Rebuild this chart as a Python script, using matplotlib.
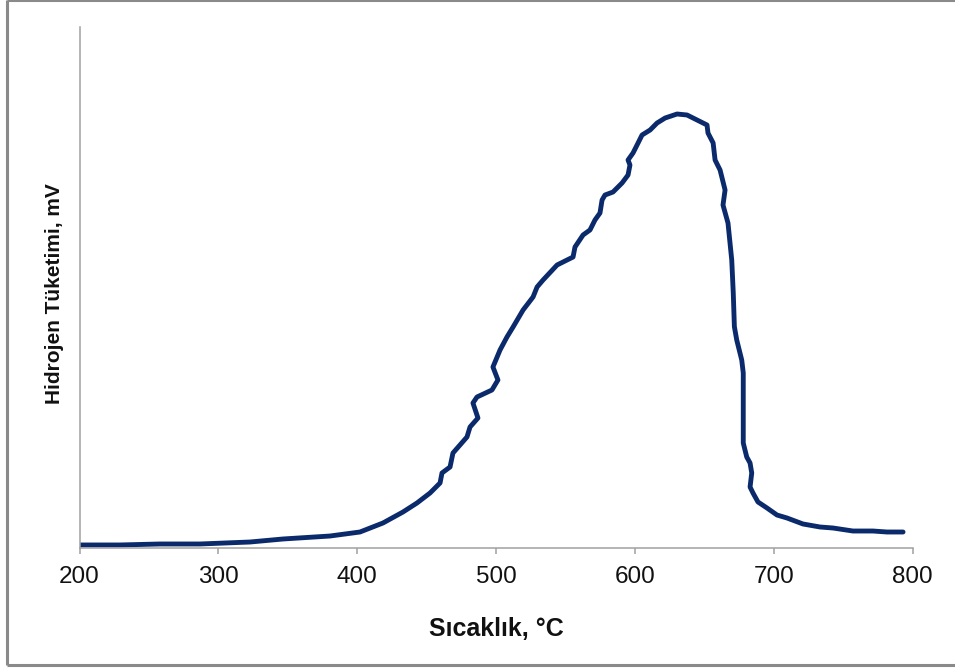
import matplotlib
matplotlib.use("Agg")
import matplotlib.pyplot as plt
from matplotlib.lines import Line2D

# Temperature-programmed reduction profile (hydrogen consumption vs temperature)
temperature = [200.4, 229.2, 258.0, 286.8, 322.8, 346.6, 380.4, 402.0, 418.6, 433.0,
               443.1, 452.5, 459.7, 461.1, 466.9, 469.0, 479.1, 481.3, 487.0, 483.4,
               486.3, 497.1, 501.4, 497.8, 502.9, 507.9, 512.3, 519.5, 526.7, 529.6,
               533.9, 544.0, 551.2, 555.5, 556.9, 562.7, 567.7, 571.3, 574.9, 576.4,
               578.5, 584.3, 590.8, 595.1, 596.5, 595.1, 598.7, 601.6, 605.2, 611.0,
               616.0, 621.8, 630.4, 637.6, 644.8, 652.0, 652.7, 656.4, 657.8, 661.4,
               665.0, 663.5, 667.1, 669.8, 670.9, 671.7, 673.4, 677.0, 678.1, 678.1,
               678.1, 680.6, 683.0, 684.2, 683.0, 685.1, 688.7, 695.2, 702.4, 709.6,
               721.1, 733.4, 742.7, 757.1, 771.5, 781.6, 793.2]
signal = [0.58, 0.58, 0.77, 0.77, 1.15, 1.73, 2.30, 3.07, 4.80, 6.91,
          8.64, 10.56, 12.48, 14.40, 15.55, 18.23, 21.31, 23.23, 24.95, 27.83,
          28.98, 30.33, 32.25, 34.74, 38.00, 40.50, 42.42, 45.68, 48.18, 50.10,
          51.44, 54.32, 55.28, 55.85, 57.77, 60.08, 61.04, 62.96, 64.30, 66.79,
          67.75, 68.33, 70.06, 71.59, 73.51, 74.47, 75.82, 77.35, 79.27, 80.23,
          81.57, 82.53, 83.30, 83.11, 82.15, 81.19, 79.65, 77.74, 74.47, 72.55,
          68.71, 65.83, 62.38, 55.28, 48.94, 42.48, 39.92, 36.08, 33.59, 26.49,
          20.15, 17.47, 16.31, 14.40, 11.71, 10.56, 8.83, 7.68, 6.33, 5.76,
          4.61, 4.03, 3.84, 3.26, 3.26, 3.07, 3.07]

x_ticks = [200, 300, 400, 500, 600, 700, 800]
x_label = "Sıcaklık, °C"
y_label = "Hidrojen Tüketimi, mV"

plt.rcParams['font.family'] = ['Liberation Sans', 'DejaVu Sans']

W, H = 955, 668
fig = plt.figure(figsize=(W / 100, H / 100), dpi=100)
fig.patch.set_facecolor("white")

# axes box in pixel coordinates
left, right, top, bottom = 79.5, 912.5, 27, 548
ax = fig.add_axes([left / W, (H - bottom) / H, (right - left) / W, (bottom - top) / H])

ax.plot(temperature, signal, color="#0b2a6c", lw=3.5, solid_joinstyle="round",
        solid_capstyle="round")

ax.set_xlim(200, 800)
ax.set_ylim(0, 100)
ax.set_xticks(x_ticks)
ax.set_yticks([])

spine_color = "#a0a0a0"
for side in ("top", "right"):
    ax.spines[side].set_visible(False)
for side in ("left", "bottom"):
    ax.spines[side].set_color(spine_color)
    ax.spines[side].set_linewidth(1.1)

ax.tick_params(axis="x", direction="out", length=4.5, width=1.1, color=spine_color,
               labelsize=17.5, pad=8.5, labelcolor="#111111")

ax.set_xlabel(x_label, fontsize=18, fontweight="bold", color="#111111", labelpad=21)
ax.set_ylabel(y_label, fontsize=15, fontweight="bold", color="#111111", labelpad=11)
ax.yaxis.label.set_y(0.488)

# outer chart frame (left, top and bottom edges)
frame_kw = dict(color="#8a8a8a", linewidth=2.2, transform=fig.transFigure,
                solid_capstyle="butt")
x0 = 6.5 / W
y_top = 1 - 0.3 / H
y_bot = (H - 664.5) / H
fig.add_artist(Line2D([x0, x0], [y_bot, y_top], **frame_kw))
fig.add_artist(Line2D([x0, 1], [y_top, y_top], **frame_kw))
fig.add_artist(Line2D([x0, 1], [y_bot, y_bot], **frame_kw))

fig.savefig("out.png", dpi=100, facecolor="white")
